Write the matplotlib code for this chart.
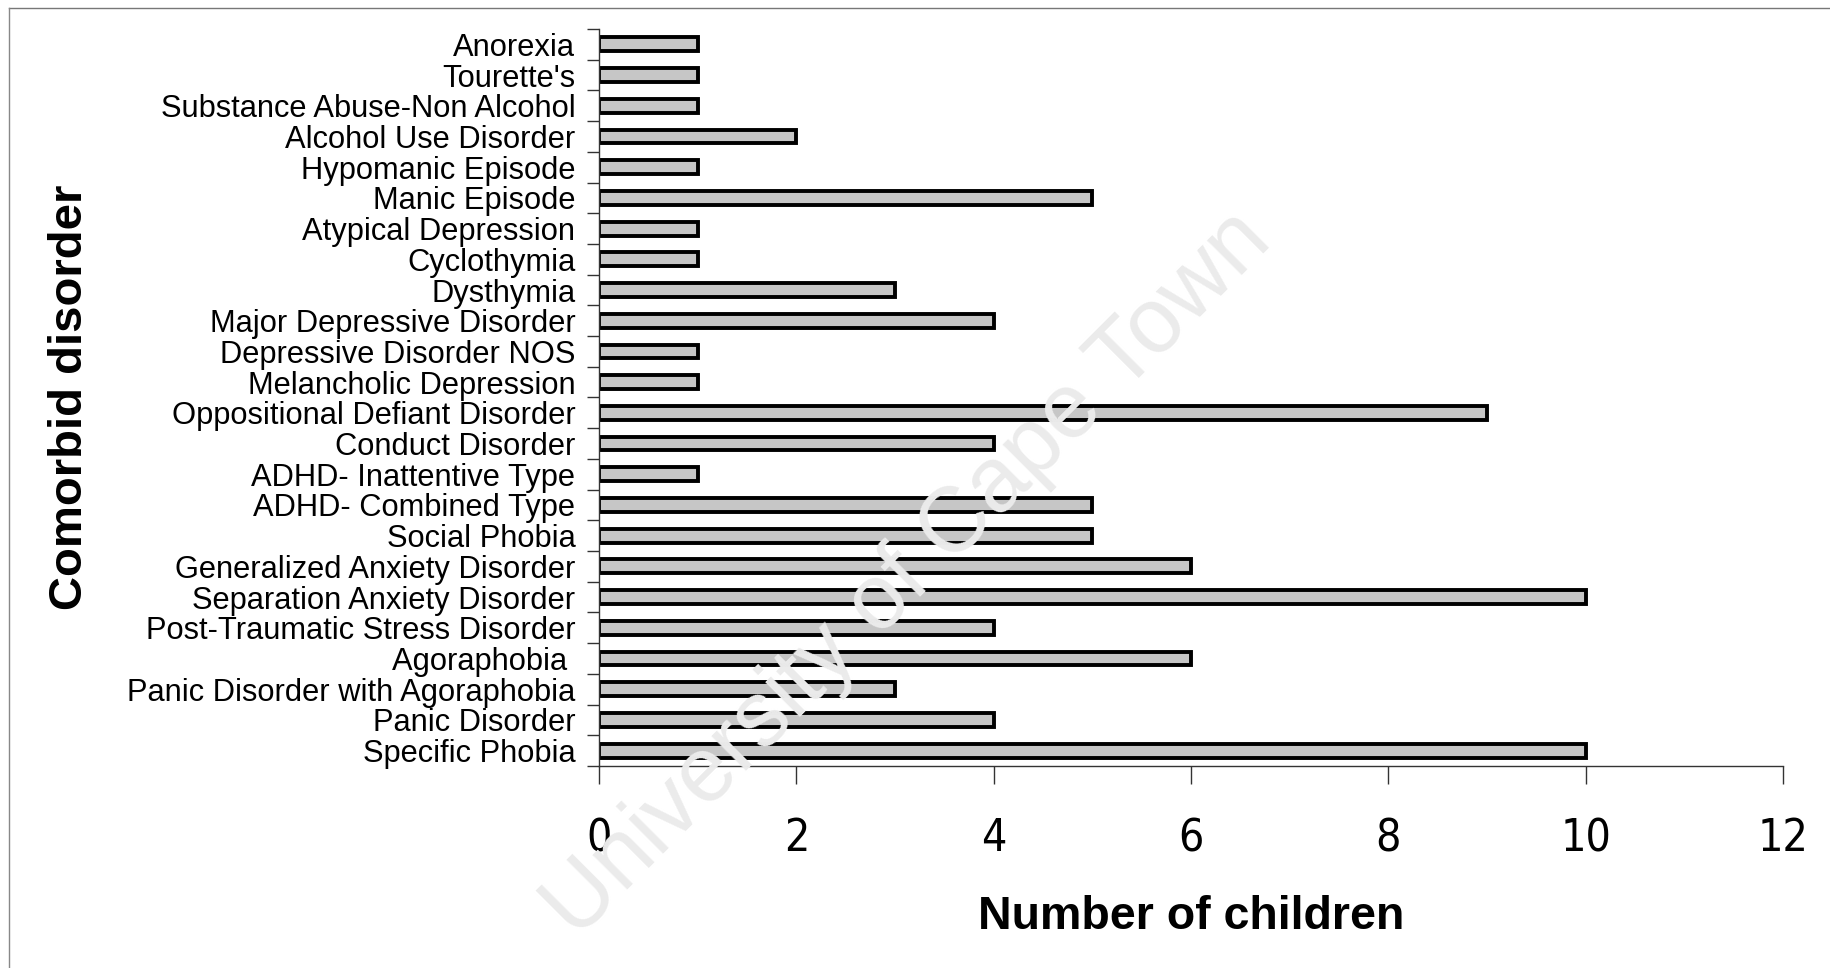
import matplotlib.pyplot as plt
from matplotlib.lines import Line2D

# categories listed bottom to top, as they appear on the chart
disorders = [
    "Specific Phobia", "Panic Disorder", "Panic Disorder with Agoraphobia",
    "Agoraphobia ", "Post-Traumatic Stress Disorder", "Separation Anxiety Disorder",
    "Generalized Anxiety Disorder", "Social Phobia", "ADHD- Combined Type",
    "ADHD- Inattentive Type", "Conduct Disorder", "Oppositional Defiant Disorder",
    "Melancholic Depression", "Depressive Disorder NOS", "Major Depressive Disorder",
    "Dysthymia", "Cyclothymia", "Atypical Depression", "Manic Episode",
    "Hypomanic Episode", "Alcohol Use Disorder", "Substance Abuse-Non Alcohol",
    "Tourette's", "Anorexia",
]
children = [10, 4, 3, 6, 4, 10, 6, 5, 5, 1, 4, 9, 1, 1, 4, 3, 1, 1, 5, 1, 2, 1, 1, 1]
x_ticks = [0, 2, 4, 6, 8, 10, 12]

plt.rcParams['font.family'] = ['Liberation Sans', 'DejaVu Sans']

fig = plt.figure(figsize=(18.3, 9.68), dpi=100)
ax = fig.add_axes([599 / 1830, 1 - 766 / 968, (1783 - 599) / 1830, (766 - 29) / 968])

pos = list(range(len(disorders)))
ax.barh(pos, children, height=0.45, color='#c6c6c6', edgecolor='black', linewidth=2.8)

ax.set_xlim(0, 12)
ax.set_ylim(-0.5, len(disorders) - 0.5)
ax.set_xticks(x_ticks)
ax.set_xticklabels([str(t) for t in x_ticks], family='DejaVu Sans', stretch='condensed',
                   fontsize=32)
ax.set_yticks(pos)
ax.set_yticklabels(disorders, fontsize=22.2)
ax.tick_params(axis='y', length=0, pad=17)
ax.set_yticks([p - 0.5 for p in range(len(disorders) + 1)], minor=True)
ax.tick_params(axis='y', which='minor', length=9, width=1, color='#333333')
ax.tick_params(axis='x', length=13, width=1, color='#333333', pad=24)

for side in ['top', 'right']:
    ax.spines[side].set_visible(False)
for side in ['left', 'bottom']:
    ax.spines[side].set_color('#333333')
    ax.spines[side].set_linewidth(1)

ax.set_xlabel('Number of children', fontsize=33.5, fontweight='bold', labelpad=25)
fig.text(70 / 1830, 1 - 397 / 968, 'Comorbid disorder', rotation=90, fontsize=34,
         fontweight='bold', ha='center', va='center')

# watermark
fig.text(908 / 1830, 1 - 575 / 968, 'University of Cape Town', rotation=45,
         fontsize=66, color='#ebebeb', ha='center', va='center', zorder=0)

# scan frame
fig.add_artist(Line2D([9 / 1830, 1], [1 - 8 / 968, 1 - 8 / 968], color='#777777', lw=1))
fig.add_artist(Line2D([9 / 1830, 9 / 1830], [0, 1 - 8 / 968], color='#888888', lw=1))

fig.savefig('out.png', dpi=100)
